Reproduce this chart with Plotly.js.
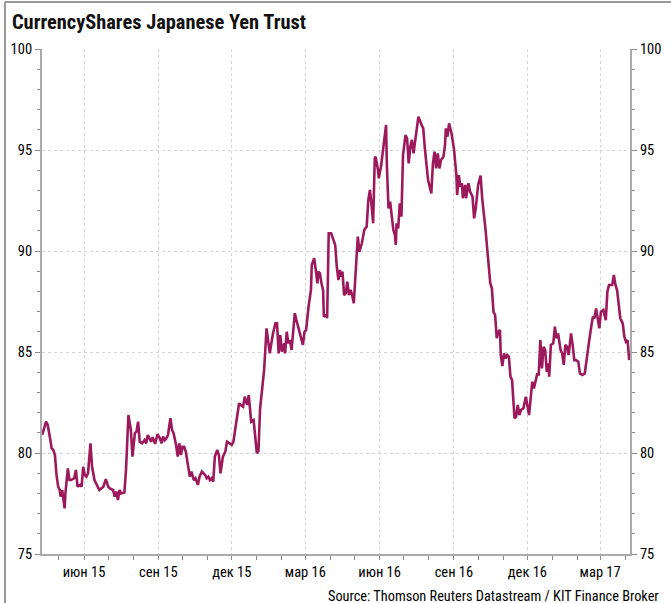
<!DOCTYPE html>
<html>
<head>
<meta charset="utf-8">
<script src="https://cdn.plot.ly/plotly-3.0.1.min.js"></script>
<style>html,body{margin:0;padding:0;background:#fff;}#chart{width:671px;height:603px;}</style>
</head>
<body>
<div id="chart"></div>
<script>
const dates = [
"2015-04-10","2015-04-11","2015-04-15","2015-04-17","2015-04-20","2015-04-22","2015-04-24","2015-04-26","2015-04-28","2015-04-30",
"2015-05-02","2015-05-03","2015-05-05","2015-05-06","2015-05-08","2015-05-09","2015-05-12","2015-05-14","2015-05-16","2015-05-20",
"2015-05-22","2015-05-24","2015-05-27","2015-05-29","2015-05-31","2015-06-02","2015-06-04","2015-06-06","2015-06-09","2015-06-11",
"2015-06-14","2015-06-18","2015-06-20","2015-06-25","2015-06-28","2015-07-01","2015-07-03","2015-07-07","2015-07-09","2015-07-11",
"2015-07-13","2015-07-15","2015-07-17","2015-07-21","2015-07-23","2015-07-26","2015-07-29","2015-07-31","2015-08-03","2015-08-05",
"2015-08-07","2015-08-09","2015-08-12","2015-08-15","2015-08-17","2015-08-19","2015-08-23","2015-08-25","2015-08-28","2015-08-31",
"2015-09-03","2015-09-05","2015-09-07","2015-09-09","2015-09-11","2015-09-13","2015-09-16","2015-09-18","2015-09-20","2015-09-23",
"2015-09-25","2015-09-27","2015-09-29","2015-10-01","2015-10-03","2015-10-05","2015-10-08","2015-10-10","2015-10-12","2015-10-15",
"2015-10-17","2015-10-20","2015-10-22","2015-10-25","2015-10-29","2015-10-31","2015-11-02","2015-11-04","2015-11-06","2015-11-08",
"2015-11-10","2015-11-13","2015-11-15","2015-11-17","2015-11-20","2015-11-23","2015-11-25","2015-11-29","2015-12-01","2015-12-03",
"2015-12-05","2015-12-08","2015-12-10","2015-12-12","2015-12-15","2015-12-17","2015-12-20","2015-12-22","2015-12-24","2015-12-25",
"2015-12-28","2015-12-30","2016-01-01","2016-01-03","2016-01-05","2016-01-07","2016-01-09","2016-01-10","2016-01-13","2016-01-15",
"2016-01-17","2016-01-19","2016-01-21","2016-01-24","2016-01-26","2016-01-28","2016-01-30","2016-02-01","2016-02-04","2016-02-05",
"2016-02-07","2016-02-09","2016-02-11","2016-02-13","2016-02-15","2016-02-17","2016-02-19","2016-02-21","2016-02-24","2016-02-27",
"2016-02-29","2016-03-02","2016-03-05","2016-03-08","2016-03-09","2016-03-12","2016-03-14","2016-03-16","2016-03-17","2016-03-19",
"2016-03-21","2016-03-23","2016-03-24","2016-03-27","2016-03-28","2016-03-30","2016-04-02","2016-04-05","2016-04-07","2016-04-09",
"2016-04-11","2016-04-13","2016-04-14","2016-04-16","2016-04-18","2016-04-20","2016-04-22","2016-04-24","2016-04-26","2016-04-28",
"2016-04-30","2016-05-03","2016-05-05","2016-05-07","2016-05-10","2016-05-13","2016-05-16","2016-05-18","2016-05-20","2016-05-22",
"2016-05-24","2016-05-26","2016-05-27","2016-05-30","2016-05-31","2016-06-03","2016-06-06","2016-06-09","2016-06-10","2016-06-12",
"2016-06-14","2016-06-16","2016-06-18","2016-06-20","2016-06-21","2016-06-22","2016-06-24","2016-06-26","2016-06-28","2016-06-30",
"2016-07-03","2016-07-05","2016-07-07","2016-07-09","2016-07-11","2016-07-13","2016-07-15","2016-07-17","2016-07-19","2016-07-23",
"2016-07-25","2016-07-27","2016-07-29","2016-07-31","2016-08-04","2016-08-06","2016-08-08","2016-08-10","2016-08-12","2016-08-14",
"2016-08-16","2016-08-19","2016-08-21","2016-08-22","2016-08-24","2016-08-26","2016-08-29","2016-09-01","2016-09-04","2016-09-05",
"2016-09-07","2016-09-09","2016-09-11","2016-09-12","2016-09-15","2016-09-16","2016-09-19","2016-09-21","2016-09-24","2016-09-26",
"2016-09-28","2016-10-01","2016-10-04","2016-10-06","2016-10-10","2016-10-12","2016-10-14","2016-10-16","2016-10-18","2016-10-20",
"2016-10-22","2016-10-24","2016-10-26","2016-10-28","2016-10-29","2016-10-31","2016-11-02","2016-11-04","2016-11-06","2016-11-08",
"2016-11-10","2016-11-12","2016-11-15","2016-11-17","2016-11-19","2016-11-21","2016-11-23","2016-11-26","2016-11-29","2016-12-01",
"2016-12-03","2016-12-05","2016-12-07","2016-12-09","2016-12-13","2016-12-15","2016-12-17","2016-12-19","2016-12-21","2016-12-23",
"2016-12-25","2016-12-27","2016-12-28","2016-12-30","2017-01-02","2017-01-04","2017-01-06","2017-01-08","2017-01-11","2017-01-13",
"2017-01-15","2017-01-17","2017-01-19","2017-01-21","2017-01-24","2017-01-26","2017-01-28","2017-01-30","2017-02-02","2017-02-04",
"2017-02-07","2017-02-10","2017-02-13","2017-02-15","2017-02-18","2017-02-20","2017-02-22","2017-02-24","2017-02-26","2017-02-28",
"2017-03-02","2017-03-05","2017-03-08","2017-03-10","2017-03-12","2017-03-16","2017-03-18","2017-03-20","2017-03-22","2017-03-24",
"2017-03-26","2017-03-29","2017-03-31","2017-04-02","2017-04-04","2017-04-06"
];
const prices = [
80.9,81.0,81.55,81.4,80.73,80.23,80.15,79.9,78.9,78.33,
78.17,77.84,78.17,77.92,77.26,78.0,79.24,78.66,78.66,78.75,
79.16,78.33,78.42,78.33,79.32,78.91,78.83,79.0,80.48,79.32,
78.66,78.33,78.17,78.33,78.71,78.33,78.25,78.17,77.84,78.09,
77.67,78.17,78.0,78.04,79.16,81.88,81.14,79.82,80.98,81.06,
81.55,80.56,80.48,80.64,80.48,80.89,80.56,80.78,80.45,80.93,
80.73,80.48,80.81,80.64,80.73,80.89,81.72,81.14,80.97,80.4,
79.82,80.48,79.9,80.31,80.31,80.07,79.16,78.83,79.08,78.66,
78.75,78.42,78.83,79.08,78.91,78.75,78.83,78.66,78.75,78.58,
79.82,80.15,79.9,78.99,79.82,80.07,80.56,80.48,80.4,80.56,
81.06,81.8,82.46,82.38,82.29,82.79,82.38,82.87,82.13,81.55,
81.63,80.89,79.98,80.1,82.2,82.95,83.94,84.11,86.17,85.43,
84.93,85.43,85.92,86.42,86.42,84.93,85.84,85.02,85.43,84.93,
86.0,85.43,85.59,85.1,86.09,86.92,86.58,86.25,85.76,85.35,
86.0,86.09,87.24,88.07,89.31,89.64,89.06,88.4,88.98,88.9,
88.4,88.07,86.75,86.83,86.67,90.88,90.88,90.46,90.3,89.22,
88.56,89.06,88.73,88.98,87.82,87.9,88.48,87.82,88.07,87.82,
87.41,89.39,90.71,89.97,90.38,91.04,91.21,92.52,93.02,92.28,
91.37,94.59,94.67,94.01,93.6,94.26,95.41,96.24,94.26,92.11,
92.44,91.62,91.04,90.79,90.3,91.37,91.12,92.36,91.7,94.75,
95.74,95.58,94.34,95.16,95.5,94.83,95.41,96.24,96.65,96.24,
96.07,95.08,94.09,93.51,92.85,94.34,94.92,94.09,94.83,94.09,
94.5,94.67,95.25,96.07,95.66,96.32,95.83,95.08,93.76,92.77,
93.76,93.18,93.35,92.61,93.27,92.61,93.35,92.94,92.69,91.62,
92.11,93.27,93.73,92.61,91.12,90.3,89.31,88.4,88.15,86.99,
86.83,85.68,86.0,86.09,84.85,84.3,84.93,84.68,84.85,84.77,
83.78,83.61,81.72,81.8,82.38,81.88,82.13,82.21,82.79,82.38,
81.88,82.71,83.53,83.2,83.89,83.89,85.59,84.19,85.26,85.1,
84.02,84.44,83.78,85.35,85.43,86.25,85.68,85.92,85.1,84.93,
84.36,85.35,85.26,84.85,85.92,85.35,84.6,84.6,84.52,83.94,
83.86,83.94,85.02,85.43,86.25,86.75,86.67,87.16,86.67,86.17,
86.99,87.08,86.58,87.99,88.32,88.32,88.81,88.32,88.07,87.49,
86.67,86.42,85.76,85.51,85.59,84.6
];
const tickDates = ["2015-06-01","2015-09-01","2015-12-01","2016-03-01","2016-06-01","2016-09-01","2016-12-01","2017-03-01"];
const tickLabels = ["июн 15","сен 15","дек 15","мар 16","июн 16","сен 16","дек 16","мар 17"];
const yTicks = [75,80,85,90,95,100];
const titleText = "CurrencyShares Japanese Yen Trust";
const sourceText = "Source: Thomson Reuters Datastream / KIT Finance Broker";

const FONT = "'Liberation Sans Narrow', 'Arial Narrow', 'Roboto Condensed', 'Liberation Sans', sans-serif";
const lineColor = "#9c1a5c";

const yBase = {
  range: [75, 100], tickvals: yTicks, ticks: "outside", ticklen: 5, tickwidth: 1, tickcolor: "#888",
  showline: true, linecolor: "#aaa", linewidth: 2, showgrid: true, gridcolor: "#d4d4d4", griddash: "dot", gridwidth: 1,
  zeroline: false, fixedrange: true,
  tickfont: {family: FONT, size: 14.5, color: "#000"},
  minor: {dtick: 1, ticks: "outside", ticklen: 3, tickcolor: "#888", showgrid: false}
};

const traces = [
  {x: dates, y: prices, type: "scatter", mode: "lines", line: {color: lineColor, width: 2.6}, hoverinfo: "skip", showlegend: false},
  {x: dates, y: prices, type: "scatter", mode: "lines", yaxis: "y2", line: {color: "rgba(0,0,0,0)", width: 0}, hoverinfo: "skip", showlegend: false}
];

const layout = {
  width: 671, height: 603,
  margin: {l: 42, r: 41, t: 49, b: 49},
  paper_bgcolor: "#fff", plot_bgcolor: "#fff",
  title: {text: titleText, x: 12/671, xanchor: "left", xref: "container", y: 1 - 22/603, yanchor: "middle",
          font: {family: FONT, size: 20.4, color: "#111", weight: "bold"}},
  xaxis: {
    type: "date", range: ["2015-04-10", "2017-04-07"],
    tickmode: "array", tickvals: tickDates, ticktext: tickLabels,
    ticks: "outside", ticklen: 4, tickcolor: "#888",
    showline: true, linecolor: "#aaa", linewidth: 2,
    showgrid: true, gridcolor: "#d4d4d4", griddash: "dot", gridwidth: 1,
    zeroline: false, fixedrange: true,
    tickfont: {family: FONT, size: 14.5, color: "#000"},
    minor: {dtick: "M1", tick0: "2015-01-01", ticks: "outside", ticklen: 4, tickcolor: "#888", showgrid: false}
  },
  yaxis: Object.assign({}, yBase, {side: "left"}),
  yaxis2: Object.assign({}, yBase, {side: "right", overlaying: "y", showgrid: false}),
  annotations: [{
    text: sourceText, xref: "paper", yref: "paper", x: (661 - 42) / 588, y: (554 - 596) / 505,
    xanchor: "right", yanchor: "middle", showarrow: false,
    font: {family: FONT, size: 14.3, color: "#000"}
  }],
  shapes: [
    {type: "line", xref: "paper", yref: "paper", x0: (5 - 42) / 588, x1: (5 - 42) / 588, y0: (554 - 603) / 505, y1: (554 - 2) / 505, line: {color: "#999", width: 2}},
    {type: "line", xref: "paper", yref: "paper", x0: (5 - 42) / 588, x1: (671 - 42) / 588, y0: (554 - 2) / 505, y1: (554 - 2) / 505, line: {color: "#999", width: 2}}
  ]
};

Plotly.newPlot("chart", traces, layout, {displayModeBar: false, staticPlot: true});
</script>
</body>
</html>
